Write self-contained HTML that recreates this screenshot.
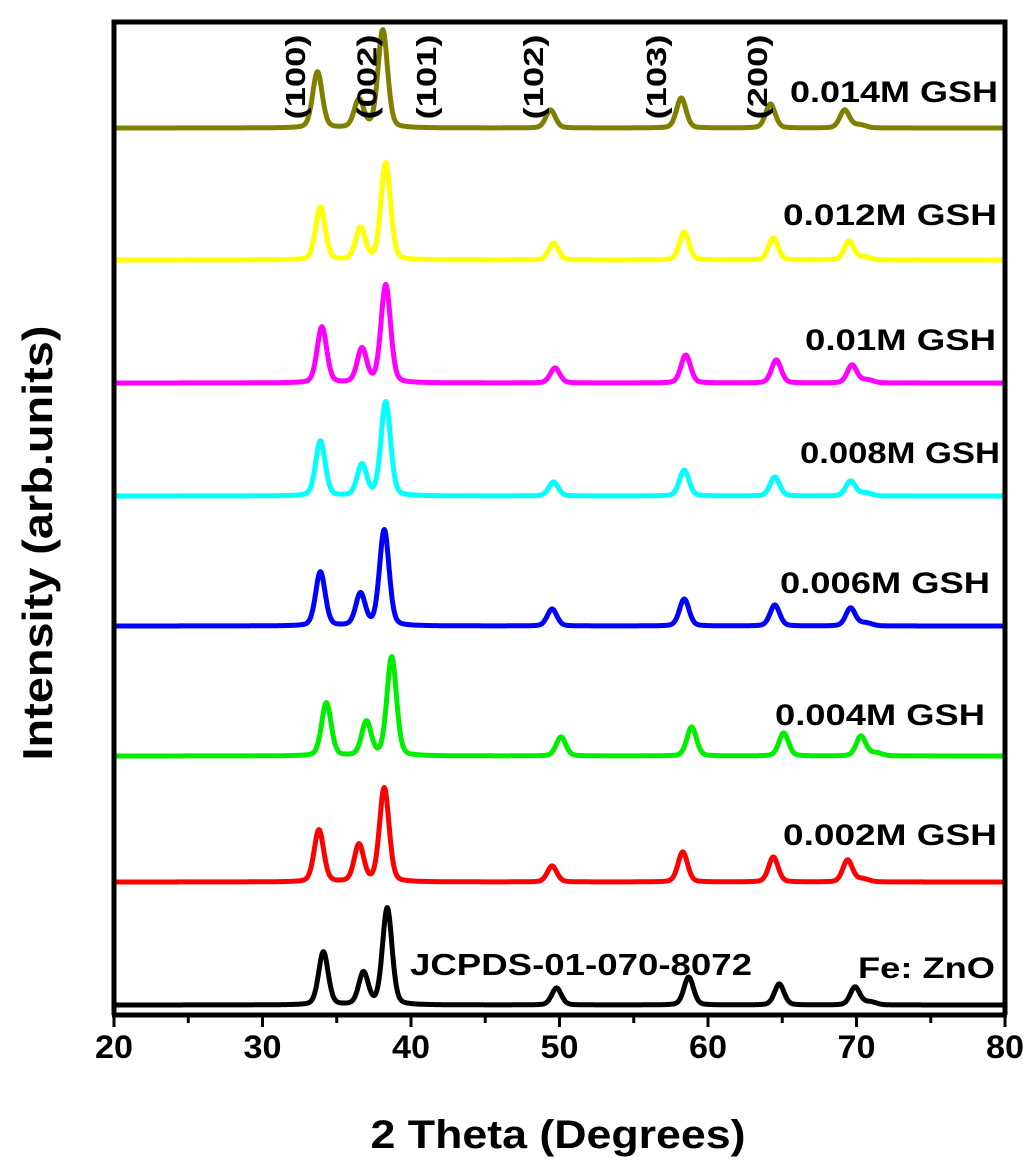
<!DOCTYPE html>
<html><head><meta charset="utf-8"><style>
body{margin:0;background:#fff}
svg{display:block;font-family:"Liberation Sans",Arial,sans-serif}
</style></head><body>
<svg id="chart" width="1031" height="1160">
<g id="plot"></g>
<g id="axes"></g>
</svg>
<script>
const labels = ["Fe: ZnO","0.002M GSH","0.004M GSH","0.006M GSH","0.008M GSH","0.01M GSH","0.012M GSH","0.014M GSH"];
const colors = ["#000000","#ff0000","#00ee00","#0000ff","#00ffff","#ff00ff","#ffff00","#808000"];
const offsets = [10,133,259,389,519,632,755,887];
const peakPos = [
 [34.1,36.8,38.4,49.8,58.7,64.8,69.9],
 [33.8,36.5,38.2,49.5,58.3,64.4,69.4],
 [34.3,37.0,38.7,50.1,58.9,65.1,70.3],
 [33.9,36.6,38.2,49.5,58.4,64.5,69.6],
 [33.9,36.7,38.3,49.6,58.4,64.5,69.6],
 [34.0,36.7,38.3,49.7,58.5,64.6,69.7],
 [33.9,36.6,38.3,49.6,58.4,64.4,69.5],
 [33.7,36.5,38.1,49.4,58.2,64.2,69.2]];
const peakHeights = [
 [53,32,97,17,28,21,18],
 [52,37,94,16,30,25,22],
 [53,34,99,19,29,23,20],
 [54,32,96,17,27,21,18],
 [55,31,94,14,26,19,15],
 [56,34,98,15,28,23,18],
 [53,32,97,17,28,22,19],
 [56,28,98,18,30,24,18]];
const xTicks = [20,30,40,50,60,70,80];
const hkl = [["(100)",32.2],["(002)",37.0],["(101)",41.0],["(102)",48.2],["(103)",56.5],["(200)",63.3]];

const X0=114,X1=1005,YB=1015;
const xs = v => X0 + (v-20)/60*(X1-X0);
const ys = v => YB - v;
const NS="http://www.w3.org/2000/svg";
function el(t,a,p){const e=document.createElementNS(NS,t);for(const k in a)e.setAttribute(k,a[k]);p.appendChild(e);return e;}
const plot=document.getElementById('plot'), axes=document.getElementById('axes');

function intensity(s,t){
  let v=offsets[s];
  peakPos[s].forEach((p,i)=>{
    const w=0.38, x=(t-p)/w;
    v+=peakHeights[s][i]*(0.75*Math.exp(-0.693*x*x)+0.25/(1+x*x));
  });
  const x2=(t-(peakPos[s][6]+1))/0.5;
  v+=3*Math.exp(-0.693*x2*x2);
  return v;
}
for(let s=0;s<labels.length;s++){
  let d="";
  for(let t=20;t<=80;t+=0.05){d+=(d?"L":"M")+xs(t).toFixed(1)+","+ys(intensity(s,t)).toFixed(1);}
  const p=el('path',{d:d,fill:'none',stroke:colors[s],'stroke-width':5,'stroke-linejoin':'round'},plot);
  
  
}
const labelY=[978,845,725,593,463,350,225,102];
const labelL=[[858,137],[783,214],[775,210],[780,210],[800,200],[805,191],[783,214],[790,208]];
for(let s=0;s<labels.length;s++){
  const t=el('text',{x:labelL[s][0],y:labelY[s],textLength:labelL[s][1],lengthAdjust:'spacingAndGlyphs','font-size':30,'font-weight':'bold',fill:'#000'},axes);
  t.textContent=labels[s];
  
  
}
const j=el('text',{x:410,y:975,textLength:342,lengthAdjust:'spacingAndGlyphs','font-size':31,'font-weight':'bold'},axes);j.textContent="JCPDS-01-070-8072";


hkl.forEach(h=>{
  const x=xs(h[1]);
  const t=el('text',{x:0,y:0,transform:`translate(${x+10},77) rotate(-90)`,'text-anchor':'middle',textLength:85,lengthAdjust:'spacingAndGlyphs','font-size':28,'font-weight':'bold'},axes);
  t.textContent=h[0];
  
  
});
const f=el('path',{d:`M${X0},${YB}V22H${X1}V${YB}`,fill:'none',stroke:'#000','stroke-width':5},axes);


const ax=el('line',{x1:X0-2,x2:X1+2,y1:YB,y2:YB,stroke:'#000','stroke-width':5},axes);


for(let v=20;v<=80;v+=5){
  const tk=el('line',{x1:xs(v),x2:xs(v),y1:YB,y2:YB+(v%10==0?12:8),stroke:'#000','stroke-width':3},axes);
  
  
}
xTicks.forEach(v=>{
  const t=el('text',{x:xs(v),y:1058,'text-anchor':'middle',textLength:38,lengthAdjust:'spacingAndGlyphs','font-size':32,'font-weight':'bold'},axes);
  t.textContent=v;
  
  
});
const xt=el('text',{x:558,y:1148,'text-anchor':'middle',textLength:375,lengthAdjust:'spacingAndGlyphs','font-size':40,'font-weight':'bold'},axes);xt.textContent="2 Theta (Degrees)";


const yt=el('text',{x:0,y:0,transform:'translate(52,543) rotate(-90)','text-anchor':'middle',textLength:435,lengthAdjust:'spacingAndGlyphs','font-size':42,'font-weight':'bold'},axes);yt.textContent="Intensity (arb.units)";


</script>
</body></html>
